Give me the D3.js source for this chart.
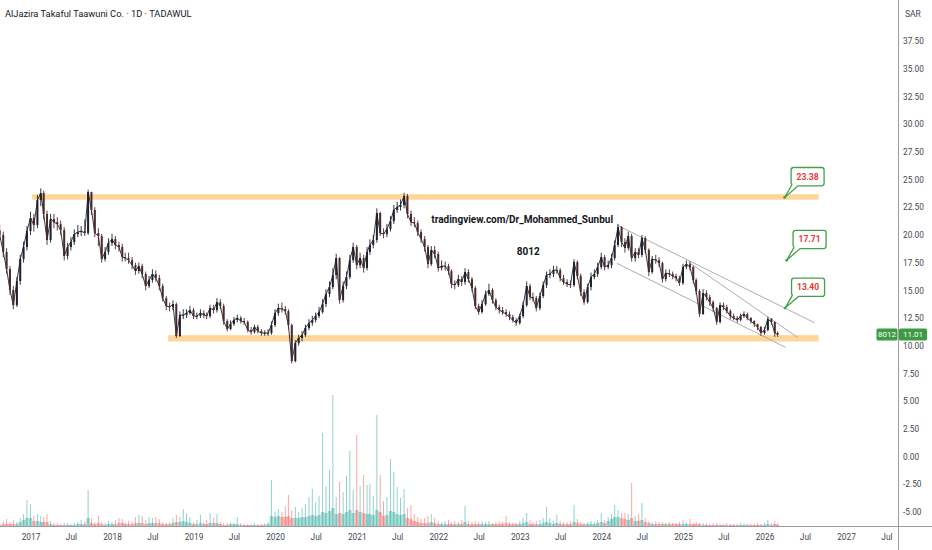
<!DOCTYPE html>
<html><head><meta charset="utf-8">
<script src="https://cdn.jsdelivr.net/npm/d3@7"></script>
<style>body{margin:0;background:#fff}svg{display:block;font-family:Roboto,"Noto Sans",sans-serif}</style>
</head><body><svg id="c" width="932" height="550"></svg>
<script>
// ---------- data ----------
const chartTitle = "AlJazira Takaful Taawuni Co. · 1D · TADAWUL";
const currency = "SAR";
const ticker = "8012";
const lastPrice = 11.01;
const watermark = "tradingview.com/Dr_Mohammed_Sunbul";
const watermarkAnchor = ["2023-01-12", 21.35];
const tickerAnchor = ["2023-02-08", 18.55];
const firstOpen = 20.4;

// semi-monthly samples starting 2016-08-16 (16th, then 1st of next month, ...)
const closes = [
20.0,18.46,16.92,15.03,13.67,15.84,17.82,18.91,20.35,21.53,
20.89,23.15,23.78,21.89,19.54,21.44,21.16,20.98,20.44,18.1,
18.91,19.36,20.08,20.26,20.35,20.17,23.87,22.25,20.17,19.9,
17.82,18.46,19.27,19.63,19.09,18.91,18.0,17.91,17.73,17.28,
16.74,17.19,16.47,15.39,15.93,16.47,16.11,15.39,14.3,13.58,
13.49,13.76,10.88,12.77,12.77,12.95,13.22,12.68,12.68,12.95,
12.77,12.68,13.4,13.22,13.94,13.58,12.23,11.51,11.96,12.32,
12.5,12.23,12.14,11.42,11.24,11.69,11.33,11.15,11.15,11.15,
11.87,12.95,13.4,13.31,13.13,11.87,8.62,10.24,10.7,10.97,
11.6,12.05,12.32,12.68,13.04,13.76,14.67,15.3,16.38,17.91,
14.12,15.39,16.2,17.73,18.91,17.28,17.91,17.01,18.46,19.09,
19.54,21.98,20.17,20.08,20.53,21.25,22.25,22.52,22.7,23.51,
21.89,21.16,21.07,20.26,19.63,18.91,17.37,18.64,18.28,17.01,
17.19,17.19,16.74,15.57,15.48,16.02,15.75,16.65,16.02,15.21,
13.58,13.04,13.76,14.67,15.03,14.12,13.49,13.22,13.04,12.86,
12.59,12.32,12.05,12.68,13.67,15.39,14.4,14.3,13.4,14.49,
15.48,16.38,16.47,16.83,16.83,16.11,15.75,15.57,15.48,17.55,
16.29,14.85,13.94,15.3,16.2,16.47,17.1,18.0,17.1,17.28,
17.91,19.09,20.71,19.36,18.82,19.9,17.91,18.46,18.19,19.72,
18.64,16.65,17.82,17.73,17.46,16.02,16.56,16.47,16.29,16.11,
15.66,17.1,17.37,17.1,15.93,14.94,12.86,14.76,14.4,13.94,
13.4,12.14,13.67,13.49,13.13,12.68,12.5,12.32,12.68,12.86,
12.5,12.23,11.96,11.69,11.15,11.42,12.41,12.14,11.15,11.01
];
const highs = [
20.9,20.3,18.8,17.2,15.4,16.2,18.2,19.4,20.8,22.1,
21.9,23.6,24.2,24.0,22.2,21.9,21.9,21.6,21.3,20.7,
19.3,19.8,20.5,20.9,20.8,21.4,24.1,23.9,22.5,20.6,
20.1,18.9,19.7,20.1,19.9,19.4,19.2,18.4,18.4,18.0,
17.5,17.5,17.4,16.7,16.3,16.9,16.8,16.4,15.6,14.5,
13.9,14.1,13.9,13.1,13.3,13.3,13.6,13.4,13.0,13.3,
13.2,13.0,13.7,13.7,14.3,14.2,13.8,12.4,12.3,12.6,
12.8,12.7,12.5,12.3,11.7,11.9,11.9,11.5,11.4,11.5,
12.2,13.3,13.8,13.9,13.6,13.3,12.0,10.5,11.0,11.3,
11.9,12.4,12.7,13.0,13.5,14.2,15.1,15.8,17.0,18.3,
18.0,15.8,16.7,18.2,19.3,19.1,18.4,18.2,18.9,19.6,
20.0,22.4,22.1,20.6,21.0,21.7,22.7,23.0,23.2,23.8,
23.7,22.2,21.6,21.3,20.5,19.9,19.1,19.0,19.0,18.5,
17.7,17.6,17.4,16.9,15.9,16.4,16.3,17.0,16.9,16.2,
15.4,13.8,14.1,15.0,15.6,15.2,14.3,13.7,13.5,13.3,
13.1,12.8,12.5,12.9,14.0,15.8,15.6,14.8,14.5,14.8,
15.8,16.7,16.9,17.2,17.2,17.0,16.4,16.0,15.9,17.8,
17.7,16.5,15.1,15.6,16.6,16.9,17.5,18.4,18.2,17.7,
18.3,19.5,21.0,20.8,19.7,20.3,20.1,18.8,18.8,20.0,
19.9,18.8,18.1,18.2,18.0,17.6,16.9,16.9,16.7,16.5,
16.3,17.4,17.7,17.6,17.2,16.1,15.1,15.1,15.0,14.6,
14.1,13.5,13.9,13.9,13.7,13.3,12.9,12.7,12.9,13.1,
13.0,12.6,12.3,12.0,11.8,11.7,12.6,12.5,12.2,11.3
];
const lows = [
19.5,18.0,16.5,14.6,13.3,13.5,15.5,17.5,18.6,20.0,
20.3,20.6,22.6,21.4,19.1,19.3,20.6,20.4,20.0,17.7,
17.8,18.6,19.1,19.8,19.9,19.9,20.0,21.8,19.8,19.0,
17.5,17.6,18.2,19.0,18.7,18.5,17.6,17.6,17.4,16.9,
16.4,16.5,16.1,15.0,15.2,15.7,15.8,15.0,14.0,13.2,
13.1,13.2,10.7,10.8,12.4,12.5,12.8,12.4,12.4,12.5,
12.5,12.4,12.5,12.9,13.0,13.3,11.9,11.3,11.4,11.8,
12.1,12.0,11.9,11.2,11.0,11.1,11.1,10.9,10.9,10.9,
11.0,11.7,12.7,13.0,12.8,11.5,8.4,8.5,10.0,10.4,
10.8,11.4,11.8,12.1,12.5,12.9,13.5,14.4,15.1,16.0,
13.8,13.9,15.1,16.0,17.5,16.9,17.0,16.6,16.8,18.2,
18.8,19.3,19.9,19.7,19.8,20.3,21.0,22.0,22.2,22.4,
21.5,20.8,20.7,19.9,19.3,18.5,17.0,17.2,17.9,16.7,
16.8,16.8,16.4,15.2,15.1,15.3,15.4,15.5,15.7,14.9,
13.3,12.8,12.9,13.6,14.5,13.8,13.2,12.9,12.8,12.6,
12.3,12.1,11.8,11.9,12.5,13.5,14.1,14.0,13.1,13.2,
14.3,15.2,16.1,16.2,16.5,15.8,15.5,15.3,15.2,15.3,
16.0,14.5,13.7,13.8,15.0,16.0,16.2,16.9,16.8,16.9,
17.0,17.7,18.9,18.9,18.4,18.6,17.6,17.6,17.9,18.0,
18.3,16.3,16.5,17.4,17.1,15.7,15.8,16.2,16.0,15.8,
15.4,15.5,16.9,16.8,15.6,14.6,12.6,12.8,14.1,13.6,
13.1,11.9,12.0,13.2,12.9,12.4,12.3,12.1,12.2,12.5,
12.3,12.0,11.7,11.4,10.9,11.0,11.3,11.9,10.8,10.8
];
// volume (thousand shares): peak day and typical day in each half-month
const volPeak = [
30,50,70,40,60,40,80,120,260,220,
100,120,100,90,120,50,30,30,20,30,
30,20,30,40,60,50,360,80,40,100,
40,30,50,40,60,80,70,40,50,40,
90,110,100,60,90,80,90,70,40,30,
40,80,110,90,170,120,90,40,60,110,
40,60,130,80,120,40,30,30,40,30,
90,30,20,20,20,30,20,20,30,40,
460,140,170,140,200,310,160,190,140,180,
220,290,370,240,300,930,400,560,1310,290,
440,340,500,750,360,910,400,510,410,420,
300,1110,510,250,290,670,540,390,280,370,
180,210,120,90,70,80,100,120,80,50,
40,50,60,40,50,40,60,200,50,40,
50,40,50,40,50,30,40,50,40,100,
40,30,30,50,80,130,60,40,50,60,
80,190,80,50,110,50,40,40,50,210,
70,40,30,40,50,40,60,130,60,90,
120,210,160,130,130,120,430,100,120,230,
80,50,40,50,40,40,30,40,30,30,
40,60,40,70,30,40,30,30,30,20,
30,30,20,20,30,20,20,20,30,20,
20,20,20,30,20,30,60,30,50,30
];
const volBase = [
10,20,20,20,20,20,40,60,80,80,
50,50,40,40,40,20,10,10,10,10,
10,10,10,20,20,20,80,30,20,30,
20,10,20,20,20,30,30,20,20,20,
30,30,30,20,30,30,30,30,20,20,
20,30,40,40,50,40,30,20,20,30,
20,20,30,30,30,20,10,10,20,20,
20,10,10,10,10,10,10,10,10,20,
100,90,100,90,90,100,80,80,80,90,
90,100,110,100,110,140,130,150,180,120,
130,120,140,160,130,160,140,130,120,120,
110,160,140,100,110,150,140,120,110,120,
80,70,50,40,30,30,30,40,30,20,
20,20,20,20,20,20,20,40,20,20,
20,20,20,20,20,20,20,20,20,30,
20,20,20,20,30,40,20,20,20,20,
30,40,30,20,30,20,20,20,20,40,
30,20,20,20,20,20,30,40,30,50,
70,90,90,80,70,60,80,50,50,60,
40,30,20,20,20,20,20,20,20,20,
20,20,20,20,20,20,20,10,10,10,
10,10,10,10,10,10,10,10,10,10,
10,10,10,10,10,10,20,10,20,10
];

const yTicks = [37.5,35,32.5,30,27.5,25,22.5,20,17.5,15,12.5,10,7.5,5,2.5,0,-2.5,-5];
const xTickDates = ["2017-01-01","2017-07-01","2018-01-01","2018-07-01","2019-01-01","2019-07-01",
  "2020-01-01","2020-07-01","2021-01-01","2021-07-01","2022-01-01","2022-07-01","2023-01-01",
  "2023-07-01","2024-01-01","2024-07-01","2025-01-01","2025-07-01","2026-01-01","2026-07-01",
  "2027-01-01","2027-07-01"];
const xTickLabels = ["2017","Jul","2018","Jul","2019","Jul","2020","Jul","2021","Jul","2022","Jul",
  "2023","Jul","2024","Jul","2025","Jul","2026","Jul","2027","Jul"];

// horizontal zones
const zoneStarts = ["2017-01-08","2018-09-09"];
const zoneEnds = ["2026-08-31","2026-08-31"];
const zoneLows = [23.18,10.38];
const zoneHighs = [23.68,10.96];

// channel lines
const channelDates1 = ["2024-03-11","2024-03-11","2025-01-26"];
const channelPrices1 = [20.89,17.44,17.55];
const channelDates2 = ["2026-08-13","2026-04-05","2026-05-29"];
const channelPrices2 = [12.08,9.86,10.76];

// target callouts
const targetPrices = [23.38,17.71,13.40];
const targetDates = ["2026-04-01","2026-04-10","2026-04-03"];

// ---------- scales ----------
const svg = d3.select("#c");
const W = 932, H = 550, plotR = 898, plotB = 526;
const parse = d3.timeParse("%Y-%m-%d");
const x = d3.scaleTime().domain([new Date(2017,0,1), new Date(2027,0,1)]).range([30.5, 846]);
const y = d3.scaleLinear().domain([-5, 37.5]).range([512, 41]);
const yv = d3.scaleLinear().domain([0, 1400]).range([plotB, plotB - 140]);

const dates = closes.map((c,i) => new Date(2016, 7 + Math.floor((i+1)/2), i % 2 === 0 ? 16 : 1));
const opens = closes.map((c,i) => i === 0 ? firstOpen : closes[i-1]);

svg.append("rect").attr("width",W).attr("height",H).attr("fill","#fff");
svg.append("defs").append("clipPath").attr("id","clip")
  .append("rect").attr("x",0).attr("y",0).attr("width",plotR).attr("height",plotB);
const plot = svg.append("g").attr("clip-path","url(#clip)");

// volume
const upC = "#26a69a", dnC = "#ef5350";
const col = i => closes[i] >= opens[i] ? upC : dnC;
plot.append("g").selectAll("rect").data(volBase).join("rect")
  .attr("x",(d,i)=>x(dates[i]) - 1.7).attr("width",3.4)
  .attr("y",d=>yv(d)).attr("height",d=>plotB - yv(d))
  .attr("fill",(d,i)=>col(i)).attr("opacity",0.42);
plot.append("g").selectAll("rect").data(volPeak).join("rect")
  .attr("x",(d,i)=>x(dates[i]) - 0.5).attr("width",1)
  .attr("y",d=>yv(d)).attr("height",d=>plotB - yv(d))
  .attr("fill",(d,i)=>col(i)).attr("opacity",0.5);

// zones
plot.append("g").selectAll("rect").data(zoneStarts).join("rect")
  .attr("x",(d)=>x(parse(d)))
  .attr("width",(d,i)=>x(parse(zoneEnds[i])) - x(parse(d)))
  .attr("y",(d,i)=>y(zoneHighs[i]))
  .attr("height",(d,i)=>y(zoneLows[i]) - y(zoneHighs[i]))
  .attr("fill","#ffcc80").attr("opacity",0.8);

// channel lines
plot.append("g").selectAll("line").data(channelDates1).join("line")
  .attr("x1",d=>x(parse(d))).attr("y1",(d,i)=>y(channelPrices1[i]))
  .attr("x2",(d,i)=>x(parse(channelDates2[i]))).attr("y2",(d,i)=>y(channelPrices2[i]))
  .attr("stroke","#9598a1").attr("stroke-width",0.8);

// price: thin close line + compressed candles
const upK = "#1e222d", dnK = "#4b2a2c";
plot.append("path").datum(closes)
  .attr("d", d3.line().x((d,i)=>x(dates[i])).y(d=>y(d)))
  .attr("fill","none").attr("stroke","#1e222d").attr("stroke-width",0.9)
  .attr("stroke-linejoin","round");
plot.append("g").selectAll("line").data(highs).join("line")
  .attr("x1",(d,i)=>x(dates[i])).attr("x2",(d,i)=>x(dates[i]))
  .attr("y1",d=>y(d)).attr("y2",(d,i)=>y(lows[i]))
  .attr("stroke",(d,i)=>closes[i]>=opens[i]?upK:dnK).attr("stroke-width",0.9);
plot.append("g").selectAll("rect").data(closes).join("rect")
  .attr("x",(d,i)=>x(dates[i]) - 1).attr("width",2)
  .attr("y",(d,i)=>y(Math.max(d,opens[i])))
  .attr("height",(d,i)=>Math.max(0.8, Math.abs(y(d)-y(opens[i]))))
  .attr("fill",(d,i)=>d>=opens[i]?upK:dnK);

// watermark texts
svg.append("text").attr("x",x(parse(watermarkAnchor[0]))).attr("y",y(watermarkAnchor[1]))
  .attr("dy","0.35em").attr("text-anchor","middle").attr("font-size",10).attr("font-weight","bold")
  .attr("fill","#131722").text(watermark);
svg.append("text").attr("x",x(parse(tickerAnchor[0]))).attr("y",y(tickerAnchor[1]))
  .attr("dy","0.35em").attr("text-anchor","middle").attr("font-size",10).attr("font-weight","bold")
  .attr("fill","#131722").text(ticker);

// target callouts
const green = "#43a047";
targetPrices.forEach((p,i)=>{
  const px = x(parse(targetDates[i])), py = y(p);
  const bx = px + 6.5, by = py - 30, w = 33, h = 18.3, r = 2.5;
  const path = `M${bx+r},${by} H${bx+w-r} Q${bx+w},${by} ${bx+w},${by+r} V${by+h-r} Q${bx+w},${by+h} ${bx+w-r},${by+h} H${bx+7} L${px},${py} L${bx+0.8},${by+h-1} L${bx},${by+h-3} V${by+r} Q${bx},${by} ${bx+r},${by} Z`;
  svg.append("path").attr("d",path).attr("fill","#fff").attr("stroke",green).attr("stroke-width",1.3);
  svg.append("circle").attr("cx",px).attr("cy",py).attr("r",1.4).attr("fill",green);
  svg.append("text").attr("x",bx+w/2).attr("y",by+h/2).attr("dy","0.35em").attr("text-anchor","middle")
    .attr("font-size",8.5).attr("font-weight","bold").attr("fill","#e53935").text(p.toFixed(2));
});

// axes
const yAxis = d3.axisRight(y).tickValues(yTicks).tickFormat(d=>d.toFixed(2)).tickSize(0).tickPadding(5);
const ga = svg.append("g").attr("transform",`translate(${plotR},0)`).call(yAxis);
ga.select(".domain").remove();
ga.selectAll("text").attr("font-size",8.3).attr("fill","#434651").attr("font-family","Roboto");

const xAxis = d3.axisBottom(x).tickValues(xTickDates.map(parse)).tickFormat((d,i)=>xTickLabels[i]).tickSize(0).tickPadding(8);
const gx = svg.append("g").attr("transform",`translate(0,${plotB})`).call(xAxis);
gx.select(".domain").remove();
gx.selectAll("text").attr("font-size",8.3).attr("fill","#434651").attr("font-family","Roboto");

svg.append("line").attr("x1",plotR+0.5).attr("x2",plotR+0.5).attr("y1",0).attr("y2",H).attr("stroke","#9a9ca3");
svg.append("line").attr("x1",0).attr("x2",W).attr("y1",plotB+0.5).attr("y2",plotB+0.5).attr("stroke","#9a9ca3");

svg.append("text").attr("x",905).attr("y",17).attr("font-size",8.5).attr("fill","#434651").text(currency);
svg.append("text").attr("x",5).attr("y",17).attr("font-size",9.3).attr("fill","#131722").text(chartTitle);

// last price label
const ly = y(lastPrice);
svg.append("rect").attr("x",876.5).attr("y",ly-6).attr("width",21).attr("height",12).attr("rx",1.5).attr("fill","#3d9a45");
svg.append("rect").attr("x",899).attr("y",ly-6).attr("width",28).attr("height",12).attr("rx",1.5).attr("fill","#3d9a45");
svg.append("text").attr("x",887).attr("y",ly).attr("dy","0.35em").attr("text-anchor","middle")
  .attr("font-size",8).attr("fill","#fff").text(ticker);
svg.append("text").attr("x",913).attr("y",ly).attr("dy","0.35em").attr("text-anchor","middle")
  .attr("font-size",8).attr("fill","#fff").text(lastPrice.toFixed(2));
</script></body></html>
